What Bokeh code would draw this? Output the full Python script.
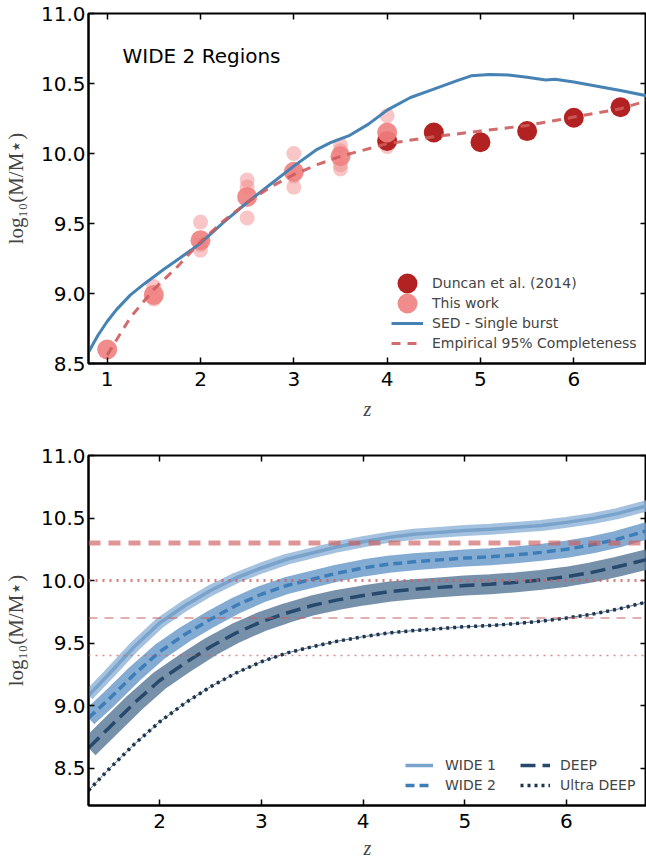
from bokeh.plotting import figure
from bokeh.layouts import column
from bokeh.models import (FixedTicker, NumeralTickFormatter, LinearAxis, Legend,
                          LegendItem, Span, Range1d, Label, CustomJSTickFormatter)
from bokeh.embed import file_html
from bokeh.resources import INLINE

# ---------------- upper panel: WIDE 2 mass completeness ----------------
duncan_z = [4.0, 4.5, 5.0, 5.5, 6.0, 6.5]
duncan_mass = [10.09, 10.15, 10.08, 10.16, 10.255, 10.33]

thiswork_z = [1.0, 1.5, 2.0, 2.5, 3.0, 3.5, 4.0]
thiswork_mass = [8.60, 8.99, 9.38, 9.69, 9.87, 9.98, 10.15]

# individual WIDE 2 fields
field_z = [1.5, 1.5, 2.0, 2.0, 2.0, 2.5, 2.5, 2.5, 3.0, 3.0, 3.0,
           3.5, 3.5, 3.5, 3.5, 4.0, 4.0, 4.0]
field_mass = [9.05, 8.96, 9.51, 9.31, 9.35, 9.81, 9.76, 9.54, 10.00, 9.76, 9.84,
              10.06, 10.02, 9.92, 9.89, 10.27, 10.05, 10.10]

sed_z = [0.8, 0.9, 1.0, 1.1, 1.25, 1.4, 1.5, 1.6, 1.75, 1.9, 2.0, 2.25, 2.5, 2.75,
         3.0, 3.25, 3.4, 3.6, 3.8, 4.0, 4.25, 4.5, 4.75, 4.9, 5.1, 5.3, 5.5, 5.7,
         5.8, 6.0, 6.25, 6.5, 6.8]
sed_mass = [8.58, 8.70, 8.80, 8.885, 8.99, 9.07, 9.12, 9.17, 9.24, 9.31, 9.36, 9.51,
            9.65, 9.78, 9.91, 10.03, 10.08, 10.13, 10.21, 10.31, 10.40, 10.46, 10.52,
            10.555, 10.565, 10.56, 10.545, 10.525, 10.53, 10.51, 10.48, 10.45, 10.41]

emp_z = [1.0, 1.25, 1.5, 1.75, 2.0, 2.25, 2.5, 2.75, 3.0, 3.25, 3.5, 4.0, 4.5,
         5.0, 5.5, 6.0, 6.5, 6.8]
emp_mass = [8.56, 8.83, 9.03, 9.19, 9.37, 9.52, 9.65, 9.76, 9.85, 9.92, 9.98, 10.07,
            10.12, 10.16, 10.20, 10.26, 10.32, 10.38]

top_xticks = [1, 2, 3, 4, 5, 6]
mass_ticks = [8.5, 9.0, 9.5, 10.0, 10.5, 11.0]

# ---------------- lower panel: survey depths ----------------
depth_z = [1.3, 1.5, 1.75, 2.0, 2.25, 2.5, 2.75, 3.0, 3.25, 3.5, 3.75, 4.0,
           4.25, 4.5, 4.75, 5.0, 5.25, 5.5, 5.75, 6.0, 6.25, 6.5, 6.8]
wide1 = [9.08, 9.25, 9.47, 9.66, 9.80, 9.92, 10.02, 10.10, 10.17, 10.22, 10.27, 10.31,
         10.345, 10.37, 10.385, 10.40, 10.41, 10.425, 10.44, 10.465, 10.495, 10.535, 10.60]
wide2 = [8.90, 9.05, 9.25, 9.43, 9.57, 9.69, 9.80, 9.89, 9.96, 10.01, 10.06, 10.10,
         10.13, 10.15, 10.165, 10.18, 10.19, 10.205, 10.225, 10.25, 10.285, 10.33, 10.40]
deep = [8.66, 8.82, 9.02, 9.20, 9.34, 9.47, 9.58, 9.67, 9.74, 9.80, 9.845, 9.88,
        9.91, 9.93, 9.945, 9.96, 9.97, 9.985, 10.005, 10.03, 10.065, 10.11, 10.17]
ultra = [8.32, 8.49, 8.69, 8.87, 9.02, 9.15, 9.26, 9.35, 9.42, 9.47, 9.515, 9.55,
         9.58, 9.60, 9.615, 9.63, 9.64, 9.655, 9.675, 9.70, 9.73, 9.77, 9.83]

limit_levels = [10.3, 10.0, 9.7, 9.4]
bottom_xticks = [2, 3, 4, 5, 6]

SANS = "DejaVu Sans"
SERIF = "Liberation Serif"


def style_axes(p, xticks, yticks, zlabel_standoff):
    p.xgrid.visible = False
    p.ygrid.visible = False
    p.outline_line_color = "black"
    p.outline_line_width = 2
    p.outline_line_alpha = 1
    p.background_fill_color = "white"
    p.border_fill_color = "white"
    p.xaxis.ticker = FixedTicker(ticks=xticks)
    p.yaxis.ticker = FixedTicker(ticks=yticks)
    p.xaxis.formatter = NumeralTickFormatter(format="0")
    p.yaxis.formatter = NumeralTickFormatter(format="0.0")
    for ax in (p.xaxis[0], p.yaxis[0]):
        ax.axis_line_width = 2
        ax.axis_line_color = "black"
        ax.major_tick_in = 6
        ax.major_tick_out = 0
        ax.minor_tick_in = 0
        ax.minor_tick_out = 0
        ax.major_tick_line_width = 1.5
        ax.major_label_text_font = SANS
        ax.major_label_text_font_size = "20px"
        ax.major_label_text_color = "black"
    p.xaxis.major_label_standoff = 8
    p.yaxis.major_label_standoff = 3
    p.xaxis.axis_label = "z"
    p.xaxis.axis_label_text_font = SERIF
    p.xaxis.axis_label_text_font_style = "italic"
    p.xaxis.axis_label_text_font_size = "20px"
    p.xaxis.axis_label_standoff = zlabel_standoff
    p.yaxis.axis_label = "log\u2081\u2080(M/M\u22c6)"
    p.yaxis.axis_label_text_font = SERIF
    p.yaxis.axis_label_text_font_style = "normal"
    p.yaxis.axis_label_text_font_size = "21px"
    p.yaxis.axis_label_standoff = 10
    # inward ticks on the top and right spines, without labels
    for ticks, side in ((xticks, "above"), (yticks, "right")):
        ax = LinearAxis(ticker=FixedTicker(ticks=ticks), axis_line_color=None,
                        major_tick_in=6, major_tick_out=0, minor_tick_in=0,
                        minor_tick_out=0, major_tick_line_width=1.5,
                        formatter=CustomJSTickFormatter(code="return ''"),
                        major_label_text_color=None, major_label_standoff=0)
        p.add_layout(ax, side)


def one_item_legend(label, renderer, loc, gw, gh, standoff):
    return Legend(items=[LegendItem(label=label, renderers=[renderer])],
                  location=loc, glyph_width=gw, glyph_height=gh, spacing=0,
                  padding=0, margin=0, border_line_color=None, background_fill_alpha=0,
                  label_text_font=SANS, label_text_font_size="14px",
                  label_standoff=standoff)


# ---------------- upper figure ----------------
top = figure(width=646, height=430, x_range=Range1d(0.8, 6.779),
             y_range=Range1d(8.5, 11.0), output_backend="svg", toolbar_location=None,
             min_border_left=88, min_border_right=0, min_border_top=13,
             min_border_bottom=67)
style_axes(top, top_xticks, mass_ticks, 9)

top.scatter(field_z, field_mass, size=15, color="#F08080", alpha=0.45, line_color=None)
r_duncan = top.scatter(duncan_z, duncan_mass, size=20, color="#B22222", alpha=1.0,
                       line_color=None)
r_this = top.scatter(thiswork_z, thiswork_mass, size=20, color="#F08080", alpha=0.9,
                     line_color=None)
r_sed = top.line(sed_z, sed_mass, line_color="#4682B4", line_width=3)
r_emp = top.line(emp_z, emp_mass, line_color="#CD5C5C", line_width=3, line_alpha=0.9,
                 line_dash="9 7")

# marker entries use a 50px glyph box so the legend circles match the data markers
top.add_layout(one_item_legend("Duncan et al. (2014)", r_duncan, (294, 55), 50, 50, 0), "center")
top.add_layout(one_item_legend("This work", r_this, (294, 35), 50, 50, 0), "center")
legend_lines = Legend(items=[LegendItem(label="SED - Single burst", renderers=[r_sed]),
                             LegendItem(label="Empirical 95% Completeness", renderers=[r_emp])],
                      location=(303, 10), glyph_width=32, glyph_height=20, spacing=0,
                      padding=0, margin=0, border_line_color=None, background_fill_alpha=0,
                      label_text_font=SANS, label_text_font_size="14px", label_standoff=9)
top.add_layout(legend_lines, "center")

top.add_layout(Label(x=34, y=308, x_units="screen", y_units="screen", text="WIDE 2 Regions",
                     text_font=SANS, text_font_size="20px", text_baseline="middle",
                     text_color="black"))

# ---------------- lower figure ----------------
bot = figure(width=646, height=433, x_range=Range1d(1.3, 6.787),
             y_range=Range1d(8.2, 11.0), output_backend="svg", toolbar_location=None,
             min_border_left=88, min_border_right=0, min_border_top=25,
             min_border_bottom=58)
style_axes(bot, bottom_xticks, mass_ticks, 6)

# uncertainty bands drawn as broad translucent strokes
bot.line(depth_z, wide1, line_color="#8DB3D7", line_width=11, line_alpha=0.8)
bot.line(depth_z, wide2, line_color="#6F9DCA", line_width=17, line_alpha=0.85)
bot.line(depth_z, deep, line_color="#5F7E9C", line_width=20, line_alpha=0.85)

r_w1 = bot.line(depth_z, wide1, line_color="#7AA3CB", line_width=3.5)
r_w2 = bot.line(depth_z, wide2, line_color="#3E7EB8", line_width=3.5, line_dash="9 5")
r_d = bot.line(depth_z, deep, line_color="#26496C", line_width=3.5, line_dash="15 7")
bot.line(depth_z, ultra, line_color="#1B3550", line_width=1, line_alpha=0.7)
r_u = bot.line(depth_z, ultra, line_color="#1B3550", line_width=3.5, line_dash="3 4")

limit_styles = [(5, "12 8", 0.65), (3, "2 5", 0.8), (1.5, "9 7", 0.65), (1.5, "2 5", 0.7)]
for level, (lw, dash, alpha) in zip(limit_levels, limit_styles):
    bot.add_layout(Span(location=level, dimension="width", line_color="#CD5C5C",
                        line_alpha=alpha, line_width=lw, line_dash=dash))

legend_a = Legend(items=[LegendItem(label="WIDE 1", renderers=[r_w1]),
                         LegendItem(label="WIDE 2", renderers=[r_w2])],
                  location=(317, 10), glyph_width=28, glyph_height=20, spacing=0,
                  padding=0, margin=0, border_line_color=None, background_fill_alpha=0,
                  label_text_font=SANS, label_text_font_size="14px", label_standoff=12)
legend_b = Legend(items=[LegendItem(label="DEEP", renderers=[r_d]),
                         LegendItem(label="Ultra DEEP", renderers=[r_u])],
                  location=(432, 10), glyph_width=30, glyph_height=20, spacing=0,
                  padding=0, margin=0, border_line_color=None, background_fill_alpha=0,
                  label_text_font=SANS, label_text_font_size="14px", label_standoff=10)
bot.add_layout(legend_a, "center")
bot.add_layout(legend_b, "center")

layout = column(top, bot, spacing=0)
open("out.html", "w").write(file_html(layout, INLINE))
